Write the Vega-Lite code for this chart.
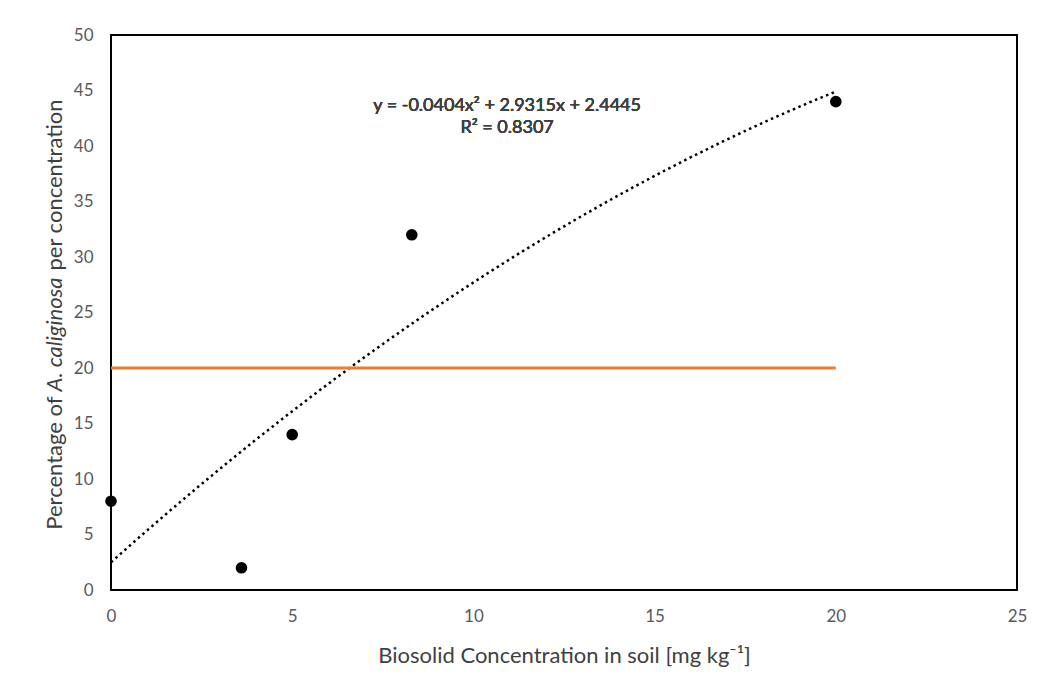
{
  "$schema": "https://vega.github.io/schema/vega-lite/v6.json",
  "width": 906,
  "height": 555,
  "autosize": {"type": "none"},
  "padding": {"left": 111, "top": 35, "right": 27, "bottom": 91},
  "background": "white",
  "config": {
    "view": {"stroke": "black", "strokeWidth": 2},
    "axis": {
      "grid": false,
      "ticks": false,
      "domain": false,
      "labelFlush": false,
      "labelFont": "Lato",
      "labelFontSize": 17,
      "labelColor": "#595959",
      "titleFont": "Lato",
      "titleFontSize": 22,
      "titleFontWeight": "normal",
      "titleColor": "#404040"
    }
  },
  "data": {
    "values": [
      {"conc": 0, "pct": 8},
      {"conc": 3.6, "pct": 2},
      {"conc": 5, "pct": 14},
      {"conc": 8.3, "pct": 32},
      {"conc": 20, "pct": 44}
    ]
  },
  "layer": [
    {
      "transform": [
        {"regression": "pct", "on": "conc", "method": "poly", "order": 2, "extent": [0, 20]}
      ],
      "mark": {"type": "line", "color": "black", "strokeWidth": 2.5, "strokeDash": [2.5, 3.5]},
      "encoding": {
        "x": {
          "field": "conc", "type": "quantitative",
          "scale": {"domain": [0, 25], "nice": false},
          "title": "Biosolid Concentration in soil [mg kg⁻¹]",
          "axis": {"values": [0, 5, 10, 15, 20, 25], "labelPadding": 18, "titleY": 72, "titleBaseline": "alphabetic"}
        },
        "y": {
          "field": "pct", "type": "quantitative",
          "scale": {"domain": [0, 50], "nice": false},
          "title": "Percentage of",
          "axis": {
            "orient": "left",
            "values": [0, 5, 10, 15, 20, 25, 30, 35, 40, 45, 50],
            "labelPadding": 18,
            "titleAngle": -90, "titleAlign": "right", "titleBaseline": "alphabetic",
            "titleX": -50, "titleY": 361
          }
        }
      }
    },
    {
      "data": {"values": [{"conc": 0, "conc_end": 20, "pct": 20}]},
      "mark": {"type": "rule", "color": "#ED7D31", "strokeWidth": 3},
      "encoding": {
        "x": {"field": "conc", "type": "quantitative", "title": "Biosolid Concentration in soil [mg kg⁻¹]"},
        "x2": {"field": "conc_end"},
        "y": {
          "field": "pct", "type": "quantitative",
          "title": "A. caliginosa",
          "axis": {
            "orient": "left", "labels": false,
            "titleAngle": -90, "titleAlign": "left", "titleBaseline": "alphabetic",
            "titleFontStyle": "italic",
            "titleX": -50, "titleY": 356
          }
        }
      }
    },
    {
      "mark": {"type": "circle", "size": 135, "color": "black", "opacity": 1},
      "encoding": {
        "x": {"field": "conc", "type": "quantitative", "title": "Biosolid Concentration in soil [mg kg⁻¹]"},
        "y": {
          "field": "pct", "type": "quantitative",
          "title": "per concentration",
          "axis": {
            "orient": "left", "labels": false,
            "titleAngle": -90, "titleAlign": "left", "titleBaseline": "alphabetic",
            "titleX": -50, "titleY": 235
          }
        }
      }
    },
    {
      "mark": {
        "type": "text", "font": "Lato", "fontSize": 18, "fontWeight": "normal", "color": "#404040",
        "align": "center", "baseline": "alphabetic", "lineHeight": 22
      },
      "encoding": {
        "x": {"datum": 10.93, "type": "quantitative", "title": "Biosolid Concentration in soil [mg kg⁻¹]"},
        "y": {"datum": 43.15, "type": "quantitative", "axis": null},
        "text": {"value": ["y = -0.0404x² + 2.9315x + 2.4445", "R² = 0.8307"]}
      }
    }
  ],
  "resolve": {"axis": {"y": "independent"}}
}
